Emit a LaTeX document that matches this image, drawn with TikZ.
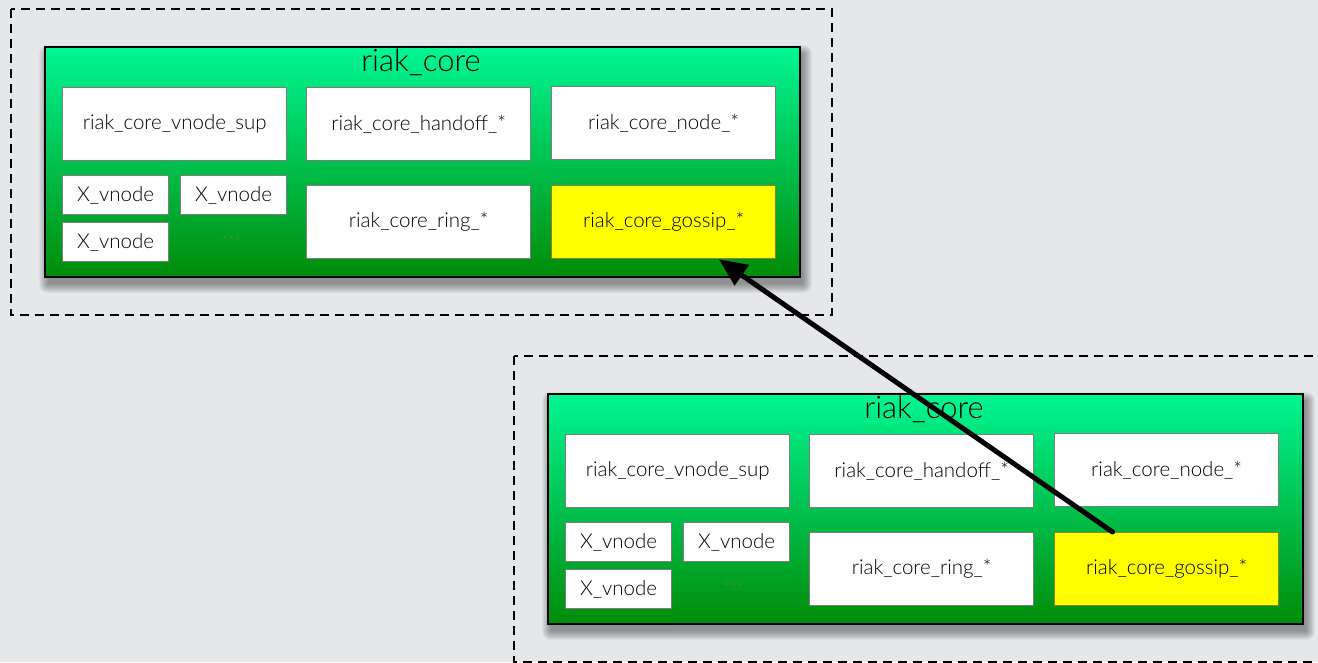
\documentclass[tikz,border=0pt]{standalone}
\usepackage{fontspec}
\setmainfont{Lato}[UprightFont={* Light}]
\newfontfamily\dotfont{Lato}
\usetikzlibrary{calc,arrows.meta}

\definecolor{bgcol}{RGB}{230,231,234}
\definecolor{greentop}{RGB}{0,246,148}
\definecolor{greenbot}{RGB}{0,140,8}
\definecolor{boxline}{RGB}{125,125,125}
\definecolor{gossipfill}{RGB}{255,255,0}
\definecolor{gossipline}{RGB}{140,130,40}

\tikzset{
  group/.style={draw=black, line width=1.3pt, dash pattern=on 9pt off 6pt},
  core/.style={anchor=north west, draw=black, line width=2pt, inner sep=0pt,
    top color=greentop, bottom color=greenbot},
  module/.style={anchor=north west, draw=boxline, line width=1.3pt, fill=white,
    inner sep=0pt, font=\fontsize{20.5}{24}\selectfont, text=black},
  bigmod/.style={module, minimum width=224pt, minimum height=73pt},
  vnode/.style={module, minimum width=106pt, minimum height=39pt},
  gossip/.style={bigmod, fill=gossipfill, draw=gossipline},
  title/.style={font=\fontsize{31}{34}\selectfont, text=black},
  dots/.style={font=\dotfont\fontsize{16}{20}\selectfont, text=black!55},
  link/.style={line width=5pt, line cap=round, -{Triangle[length=28pt,width=24pt]}}
}

% one riak_core application with its processes
\newcommand{\riakgroup}[3]{%
  \begin{scope}[shift={(#2,#3)}]
    \draw[group] (11,9) rectangle (832,315);
    % soft drop shadow under the application box
    \foreach \k in {0,...,9}
      \fill[black, opacity=0.045, rounded corners=\k pt]
        (44+4-\k, 46+8-\k) rectangle (799+4+\k, 276+8+\k);
    \node[core, minimum width=755pt, minimum height=230pt] (#1core) at (44,46) {};
    \node[title] (#1title) at (421,62) {riak\_core};
    \node[bigmod] (#1vsup) at (62,87) {riak\_core\_vnode\_sup};
    \node[bigmod] (#1handoff) at (306,87) {riak\_core\_handoff\_*};
    \node[bigmod] (#1node) at (551,86) {riak\_core\_node\_*};
    \node[bigmod] (#1ring) at (306,185) {riak\_core\_ring\_*};
    \node[gossip] (#1gossip) at (551,185) {riak\_core\_gossip\_*};
    \node[vnode] (#1xa) at (62,175) {X\_vnode};
    \node[vnode] (#1xb) at (180,175) {X\_vnode};
    \node[vnode] (#1xc) at (62,222) {X\_vnode};
    \node[dots] (#1dots) at (231,238) {.\hspace{3pt}.\hspace{3pt}.};
  \end{scope}}

\begin{document}
\begin{tikzpicture}[x=1pt,y=-1pt]
  \fill[bgcol] (0,0) rectangle (1318,662);
  \useasboundingbox (0,0) rectangle (1318,662);
  \begin{scope}
    \clip (0,0) rectangle (1318,662);
    \riakgroup{a}{0}{0}
    \riakgroup{b}{503}{347}
    \coordinate (src) at ($(bgossip.north west)!0.26!(bgossip.north east)$);
    \coordinate (dst) at ($(agossip.south west)!0.745!(agossip.south east)$);
    \draw[link] (src) -- (dst);
  \end{scope}
\end{tikzpicture}
\end{document}
